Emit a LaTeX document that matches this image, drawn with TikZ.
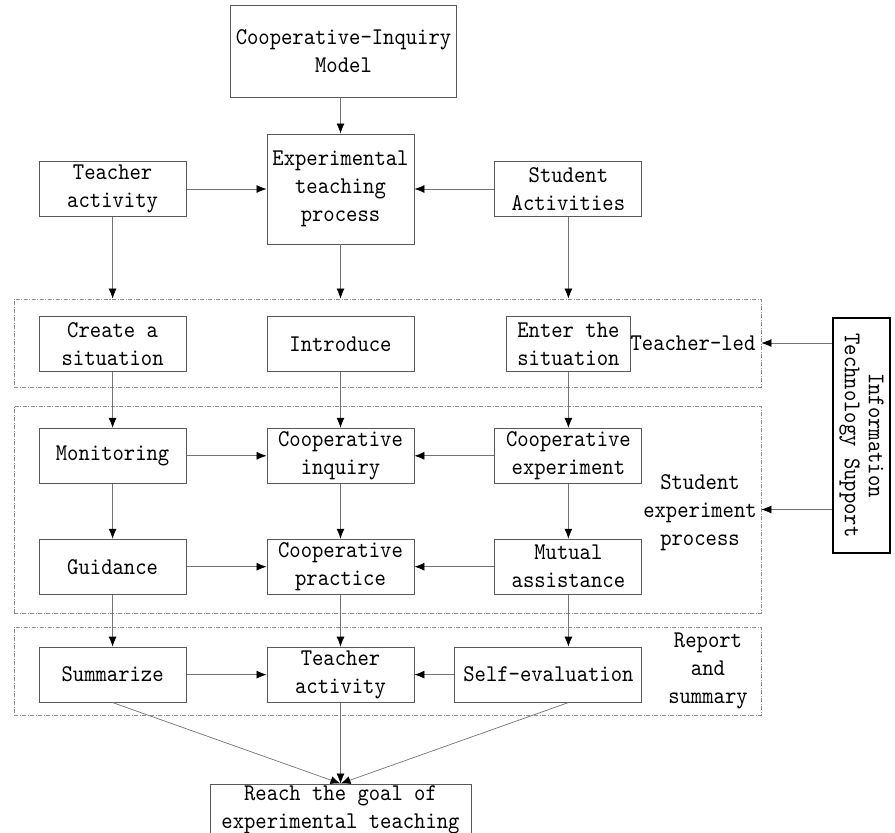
\documentclass[tikz,border=0pt]{standalone}
\usepackage{fontspec}
\newfontfamily\lblfont{lmmono10-regular.otf}[FakeStretch=0.9]
\usetikzlibrary{arrows.meta, positioning}

\begin{document}
\begin{tikzpicture}[
  x=1pt, y=-1pt,
  font=\lblfont\fontsize{24}{28}\selectfont,
  box/.style={rectangle, draw=black!65, line width=0.9pt, minimum width=147pt, minimum height=55pt, inner sep=1pt, align=center},
  zone/.style={draw=black!45, line width=0.8pt, dash pattern=on 4pt off 1.5pt on 1pt off 1.5pt, minimum width=747pt, inner sep=0pt},
  edge/.style={draw=black!55, line width=0.7pt, -{Latex[length=10pt, width=8pt, color=black]}},
  node distance=80pt
]
\useasboundingbox (0,0) rectangle (895,833);

\node[box, minimum width=226pt, minimum height=92pt] (model) at (343.5,51) {Cooperative-Inquiry\\Model};
\node[box, minimum height=110pt] (exp) at (340.5,189) {Experimental\\teaching\\process};
\node[box, left=80pt of exp] (tact) {Teacher\\activity};
\node[box, right=80pt of exp] (sact) {Student\\Activities};

\node[zone, minimum height=88pt] (ledzone) at (387.5,343) {};
\node[zone, minimum height=207pt] (expzone) at (387.5,509.5) {};
\node[zone, minimum height=88pt] (repzone) at (387.5,671) {};

\node[box, below=99pt of tact] (create) {Create a\\situation};
\node[box] (intro) at (create -| exp) {Introduce};
\node[box, minimum width=124pt] (enter) at (create -| sact) {Enter the\\situation};

\node[box, below=56pt of create] (monitor) {Monitoring};
\node[box] (inquiry) at (monitor -| exp) {Cooperative\\inquiry};
\node[box] (coexp) at (monitor -| sact) {Cooperative\\experiment};

\node[box, below=55pt of monitor] (guide) {Guidance};
\node[box] (practice) at (guide -| exp) {Cooperative\\practice};
\node[box] (mutual) at (guide -| sact) {Mutual\\assistance};

\node[box, below=52pt of guide] (summ) {Summarize};
\node[box] (tact2) at (summ -| exp) {Teacher\\activity};
\node[box, minimum width=187pt, anchor=east] (selfev) at (summ -| sact.east) {Self-evaluation};

\node[box, minimum width=261pt, minimum height=52pt, below=81pt of tact2] (goal) {Reach the goal of\\experimental teaching};

\node (ledlbl) at (693,343) {Teacher-led};
\node[align=center] (explbl) at (700,513) {Student\\experiment\\process};
\node[align=center] (replbl) at (708,671) {Report\\and\\summary};

\node[draw, line width=1.4pt, minimum width=57pt, minimum height=235pt] (info) at (861.5,435.5) {};
\node[rotate=-90, align=center, font=\lblfont\fontsize{24}{24}\selectfont] (infotxt) at (info.center) {Information\\Technology Support};

\draw[edge] (exp.north |- model.south) -- (exp.north);
\draw[edge] (tact) -- (exp.west |- tact.east);
\draw[edge] (sact) -- (exp.east |- sact.west);
\draw[edge] (tact.south) -- (tact.south |- ledzone.north);
\draw[edge] (exp.south) -- (exp.south |- ledzone.north);
\draw[edge] (sact.south) -- (sact.south |- ledzone.north);

\draw[edge] (create) -- (monitor);
\draw[edge] (intro) -- (inquiry);
\draw[edge] (enter) -- (coexp);
\draw[edge] (monitor) -- (inquiry);
\draw[edge] (coexp) -- (inquiry);
\draw[edge] (monitor) -- (guide);
\draw[edge] (inquiry) -- (practice);
\draw[edge] (coexp) -- (mutual);
\draw[edge] (guide) -- (practice);
\draw[edge] (mutual) -- (practice);
\draw[edge] (guide) -- (summ);
\draw[edge] (practice) -- (tact2);
\draw[edge] (mutual.south) -- (mutual.south |- selfev.north);
\draw[edge] (summ) -- (tact2);
\draw[edge] (selfev) -- (tact2);

\draw[edge] (summ.south) -- (goal.north);
\draw[edge] (tact2.south) -- (goal.north);
\draw[edge] (mutual.south |- selfev.south) -- (goal.north);

\draw[edge] (info.west |- ledzone.east) -- (ledzone.east);
\draw[edge] (info.west |- expzone.east) -- (expzone.east);
\end{tikzpicture}
\end{document}
